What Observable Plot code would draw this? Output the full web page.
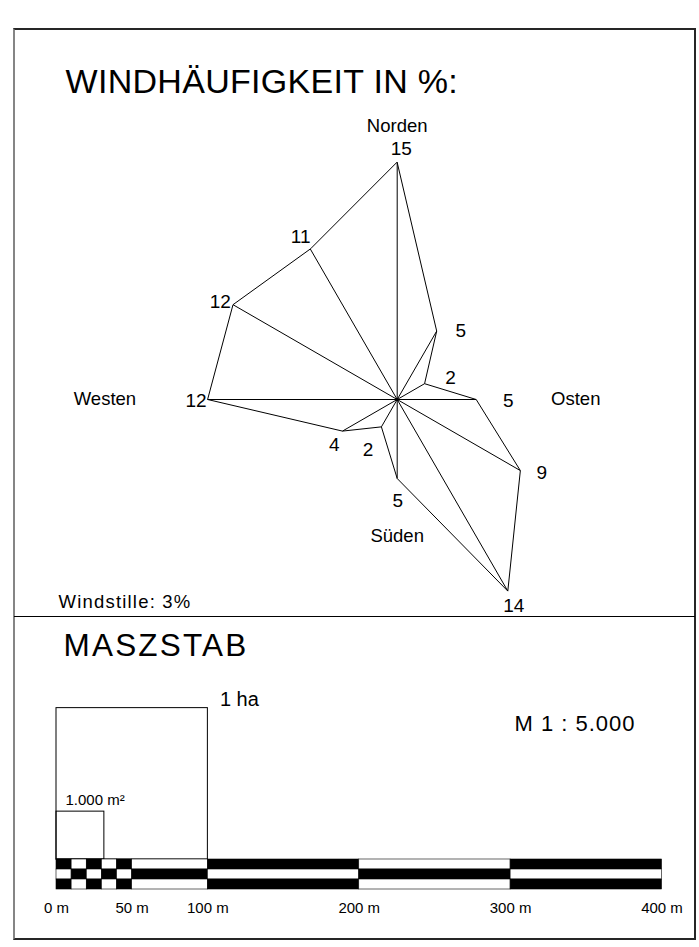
<!DOCTYPE html>
<html>
<head>
<meta charset="utf-8">
<script src="https://cdn.jsdelivr.net/npm/d3@7"></script>
<script src="https://cdn.jsdelivr.net/npm/@observablehq/plot@0.6"></script>
<style>
html, body { margin: 0; padding: 0; background: #fff; }
#page { position: relative; width: 699px; height: 947px; overflow: hidden; }
#page svg { position: absolute; left: 0; display: block; }
#frame { position: absolute; left: 13px; top: 28px; width: 679px; height: 908px;
  border-top: 2px solid #262626; border-right: 2px solid #262626; border-bottom: 2px solid #262626;
  border-left: 2px solid #858585; pointer-events: none; }
#sep { position: absolute; left: 14px; top: 616px; width: 681px; height: 0; border-top: 1px solid #000; }
</style>
</head>
<body>
<div id="page"><div id="frame"></div><div id="sep"></div></div>
<script>
// ---------- data ----------
const directions = ["N", "NNO", "ONO", "O", "OSO", "SSO", "S", "SSW", "WSW", "W", "WNW", "NNW"];
const angles = [0, 30, 60, 90, 120, 150, 180, 210, 240, 270, 300, 330];
const frequencies = [15, 5, 2, 5, 9, 14, 5, 2, 4, 12, 12, 11];
const calm = 3;
const compassNames = ["Norden", "Osten", "Süden", "Westen"];
const compassAngles = [0, 90, 180, 270];
const scaleTicks = [0, 50, 100, 200, 300, 400];
const scaleBreaks = [0, 10, 20, 30, 40, 50, 100, 200, 300, 400];
const areaLabels = ["1 ha", "1.000 m²"];
const areaValues = [10000, 1000];
const scaleRatio = "M 1 : 5.000";

// ---------- layout ----------
const FONT = "'Liberation Sans', Arial, Helvetica, sans-serif";
const W = 699, H1 = 617, cx = 396.7, cy = 399, k = 15.8;   // rose: centre and px per %
const labelNudge = [[4,-14],[24,0],[26,-6],[32,1],[21.5,2.6],[6,14.6],[0.7,22.3],[-13.3,23.3],[-8.2,14.3],[-11.6,1],[-12.8,-2.7],[-9.6,-12.3]];
const compassDist = [17.3, 11.3, 8.65, 18.5]; // in % units from the centre

const rad = a => a * Math.PI / 180;
const pts = frequencies.map((v, i) => ({dir: directions[i], v, x: v * Math.sin(rad(angles[i])), y: v * Math.cos(rad(angles[i]))}));
const compass = compassNames.map((n, i) => ({name: n, x: compassDist[i] * Math.sin(rad(compassAngles[i])), y: compassDist[i] * Math.cos(rad(compassAngles[i]))}));

const rose = Plot.plot({
  width: W, height: H1, margin: 0,
  style: {fontFamily: FONT, background: "transparent", overflow: "visible"},
  x: {domain: [-cx / k, (W - cx) / k], axis: null},
  y: {domain: [-(H1 - cy) / k, cy / k], axis: null},
  marks: [
    Plot.line(pts, {x: "x", y: "y", curve: "linear-closed", stroke: "black", strokeWidth: 1}),
    Plot.link(pts, {x1: 0, y1: 0, x2: "x", y2: "y", stroke: "black", strokeWidth: 1}),
    Plot.dot([0], {x: 0, y: 0, r: 1.6, fill: "black", stroke: null}),
    ...pts.map((p, i) => Plot.text([p], {x: "x", y: "y", text: d => String(d.v), dx: labelNudge[i][0], dy: labelNudge[i][1], fontSize: 19, fill: "black"})),
    Plot.text(compass, {x: "x", y: "y", text: "name", fontSize: 18.5, fill: "black"}),
    Plot.text(["WINDHÄUFIGKEIT IN %:"], {frameAnchor: "top-left", dx: 65, dy: 92, textAnchor: "start", lineAnchor: "bottom", fontSize: 34, fill: "black"}),
    Plot.text([`Windstille: ${calm}%`], {frameAnchor: "top-left", dx: 58, dy: 607, textAnchor: "start", lineAnchor: "bottom", fontSize: 18.5, fill: "black"})
  ]
});
rose.style.top = "0px";

// ---------- scale bar ----------
const H2 = 330, left = 56, right = 661.5, zeroY = 242, barBottom = 272;
const mpx = (right - left) / 400;      // px per metre
const rowH = 10 / mpx;                  // one bar row in metres
const cells = [];
for (let row = 0; row < 3; row++) {
  for (let i = 0; i < scaleBreaks.length - 1; i++) {
    cells.push({x1: scaleBreaks[i], x2: scaleBreaks[i + 1], y1: -(row + 1) * rowH, y2: -row * rowH,
      fill: (i + row) % 2 === 0 ? "black" : "white"});
  }
}
const squares = areaValues.map((a, i) => ({label: areaLabels[i], side: Math.sqrt(a)}));

const scale = Plot.plot({
  width: W, height: H2,
  marginLeft: left, marginRight: W - right, marginTop: 0, marginBottom: H2 - barBottom,
  style: {fontFamily: FONT, background: "transparent", overflow: "visible"},
  x: {domain: [0, 400], axis: null},
  y: {domain: [-(barBottom - zeroY) / mpx, zeroY / mpx], axis: null},
  marks: [
    Plot.rect(squares, {x1: 0, x2: "side", y1: 0, y2: "side", fill: "none", stroke: "black", strokeWidth: 1}),
    Plot.rect(cells, {x1: "x1", x2: "x2", y1: "y1", y2: "y2", fill: "fill", stroke: "black", strokeWidth: 0.6}),
    Plot.text([squares[0]], {x: "side", y: "side", text: "label", dx: 12, dy: -2, textAnchor: "start", lineAnchor: "bottom", fontSize: 20, fill: "black"}),
    Plot.text([squares[1]], {x: 0, y: "side", text: "label", dx: 9, dy: -7, textAnchor: "start", lineAnchor: "bottom", fontSize: 15, fill: "black"}),
    Plot.text(scaleTicks, {x: d => d, text: d => `${d} m`, frameAnchor: "bottom", lineAnchor: "bottom", dy: 23, fontSize: 15, fill: "black"}),
    Plot.text(["MASZSTAB"], {frameAnchor: "top-left", dx: 7, dy: 38, textAnchor: "start", lineAnchor: "bottom", fontSize: 31.5, fill: "black"}),
    Plot.text([scaleRatio], {frameAnchor: "top-left", dx: 458, dy: 113, textAnchor: "start", lineAnchor: "bottom", fontSize: 22, fill: "black"})
  ]
});
scale.style.top = H1 + "px";

const page = document.getElementById("page");
page.insertBefore(scale, page.firstChild);
page.insertBefore(rose, page.firstChild);

// slightly wider lettering, as in the original drawing
const spacing = {"WINDHÄUFIGKEIT IN %:": 0.3, "MASZSTAB": 2.2, "M 1 : 5.000": 1, "Windstille: 3%": 1.2};
d3.selectAll("#page svg text").each(function () {
  const s = spacing[this.textContent];
  if (s) this.style.letterSpacing = s + "px";
});
</script>
</body>
</html>
